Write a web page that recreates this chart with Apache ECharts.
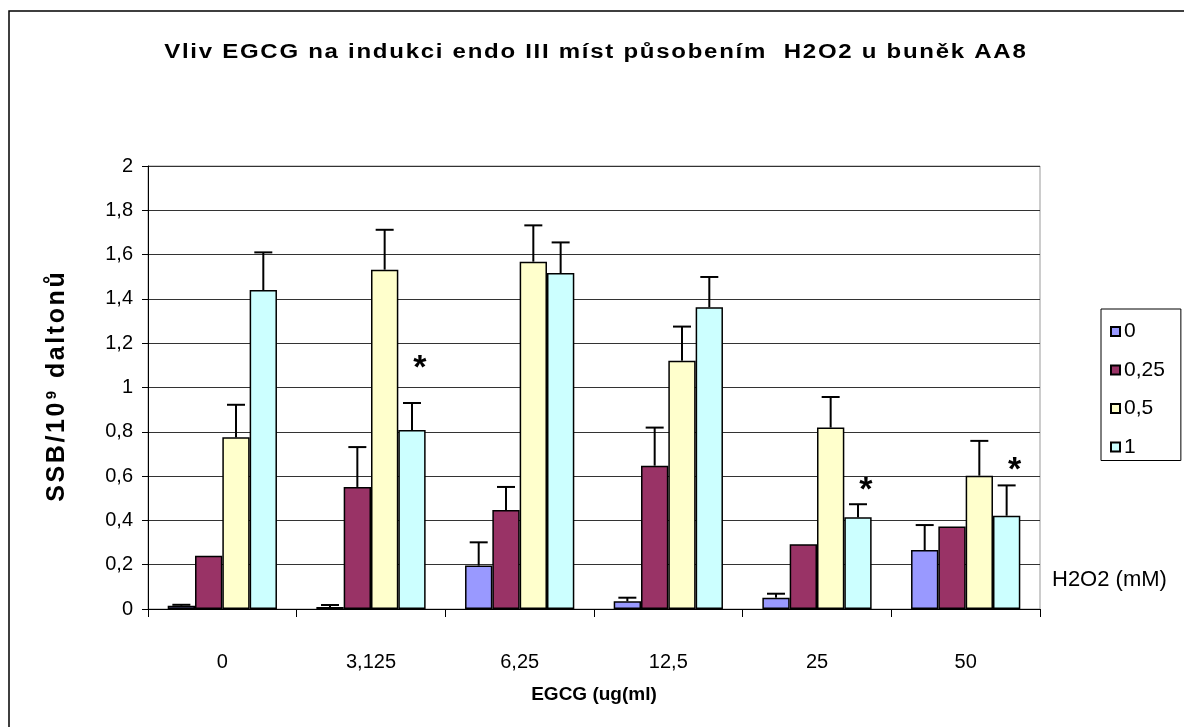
<!DOCTYPE html>
<html>
<head>
<meta charset="utf-8">
<script src="https://cdn.jsdelivr.net/npm/echarts@6/dist/echarts.min.js"></script>
<style>html,body{margin:0;padding:0;background:#fff}#c{width:1184px;height:727px}</style>
</head>
<body>
<div id="c"></div>
<script>
// ---- data ----
const categories = ['0', '3,125', '6,25', '12,5', '25', '50'];
const seriesNames = ['0', '0,25', '0,5', '1'];
const values0   = [0.015, 0.009, 0.196, 0.035, 0.051, 0.266];
const values025 = [0.24, 0.551, 0.447, 0.647, 0.292, 0.372];
const values05  = [0.775, 1.532, 1.568, 1.121, 0.819, 0.602];
const values1   = [1.44, 0.808, 1.517, 1.362, 0.414, 0.421];
const err0   = [0.004, 0.009, 0.105, 0.016, 0.018, 0.113];
const err025 = [null, 0.18, 0.104, 0.172, null, null];
const err05  = [0.147, 0.18, 0.164, 0.154, 0.138, 0.157];
const err1   = [0.17, 0.122, 0.138, 0.137, 0.059, 0.137];
// significance stars: [category index, y value]
const stars = [[1, 1.117], [4, 0.567], [5, 0.658]];
const yMin = 0, yMax = 2, yInterval = 0.2;
const titleText = 'Vliv EGCG na indukci endo III míst působením  H2O2 u buněk AA8';
const yTitleMain = 'SSB/10', yTitleSup = '9', yTitleRest = ' daltonů';
const xTitleText = 'EGCG (ug(ml)';
const legendTitle = 'H2O2 (mM)';

const colors = ['#9999FF', '#993366', '#FFFFCC', '#CCFFFF'];
const allValues = [values0, values025, values05, values1];
const allErr = [err0, err025, err05, err1];
const CAT_GAP = 0.265;
const FONT = '"Liberation Sans", Arial, sans-serif';

const errData = [];
allErr.forEach((arr, s) => arr.forEach((e, i) => {
  if (e != null) errData.push([i, allValues[s][i], e, s]);
}));

// letter-spaced rich text helper
function spaced(str, style) {
  return Array.from(str).map(c => '{' + style + '|' + c + '}').join('');
}

const chart = echarts.init(document.getElementById('c'), null, {renderer: 'canvas'});

const barSeries = seriesNames.map((n, s) => ({
  name: n, type: 'bar', data: allValues[s],
  barGap: '0%', barCategoryGap: (CAT_GAP * 100) + '%',
  itemStyle: {color: colors[s], borderColor: '#000', borderWidth: 1.5},
  emphasis: {disabled: true}, z: 2
}));

function barX(api, cat, s) {
  const c = api.coord([cat, 0]);
  const band = api.size([1, 0])[0];
  const bw = band * (1 - CAT_GAP) / 4;
  return c[0] + (s - 1.5) * bw;
}

const option = {
  backgroundColor: '#fff',
  animation: false,
  legend: {
    orient: 'vertical', left: 1101, top: 309,
    data: seriesNames,
    itemWidth: 9, itemHeight: 9, itemGap: 17.5,
    padding: [12, 16, 3, 9],
    borderColor: '#000', borderWidth: 1, backgroundColor: '#fff',
    icon: 'rect',
    textStyle: {fontFamily: FONT, fontSize: 21, lineHeight: 21, color: '#000', padding: [0, 0, 0, -1]}
  },
  grid: {left: 148, right: 144, top: 166, bottom: 118, show: true, borderColor: '#999', borderWidth: 1},
  xAxis: {
    type: 'category', data: categories,
    name: xTitleText, nameLocation: 'middle', nameGap: 76,
    nameTextStyle: {fontFamily: FONT, fontWeight: 'bold', fontSize: 19, color: '#000'},
    axisLine: {lineStyle: {color: '#000', width: 1}},
    axisTick: {show: true, length: 8, lineStyle: {color: '#000'}},
    axisLabel: {fontFamily: FONT, fontSize: 20, color: '#000', margin: 43}
  },
  yAxis: {
    type: 'value', min: yMin, max: yMax, interval: yInterval,
    axisLine: {show: true, lineStyle: {color: '#000', width: 1}},
    axisTick: {show: true, length: 6, lineStyle: {color: '#000'}},
    axisLabel: {fontFamily: FONT, fontSize: 20, color: '#000', margin: 15,
      formatter: v => String(+v.toFixed(1)).replace('.', ',')},
    splitLine: {show: true, lineStyle: {color: '#333', width: 1}}
  },
  graphic: [
    {type: 'rect', shape: {x: 9, y: 11, width: 1300, height: 900}, style: {fill: 'none', stroke: '#000', lineWidth: 1.5}, z: 100, silent: true},
    {type: 'text', x: 595, y: 52, scaleX: 1.2, silent: true, style: {
      text: spaced(titleText, 't'), align: 'center', verticalAlign: 'middle',
      rich: {t: {fontFamily: FONT, fontWeight: 'bold', fontSize: 20, fill: '#000', padding: [0, 0.72, 0, 0.72]}}
    }},
    {type: 'text', x: 57, y: 387, rotation: Math.PI / 2, silent: true, style: {
      text: spaced(yTitleMain, 'a') + '{s|' + yTitleSup + '}' + spaced(yTitleRest, 'a'),
      align: 'center', verticalAlign: 'middle',
      rich: {
        a: {fontFamily: FONT, fontWeight: 'bold', fontSize: 25, fill: '#000', padding: [0, 1.3, 0, 1.3]},
        s: {fontFamily: FONT, fontWeight: 'bold', fontSize: 15, fill: '#000', verticalAlign: 'top', padding: [0, 2, 0, 2]}
      }
    }},
    {type: 'text', x: 1052, y: 580, silent: true, style: {text: legendTitle, font: '22px ' + FONT, fill: '#000', verticalAlign: 'middle'}}
  ],
  series: barSeries.concat([
    {
      type: 'custom', name: 'err', data: errData, z: 5, silent: true,
      renderItem: (params, api) => {
        const cat = api.value(0), v = api.value(1), e = api.value(2), s = api.value(3);
        const x = barX(api, cat, s);
        const y0 = api.coord([cat, v])[1];
        const y1 = api.coord([cat, v + e])[1];
        const st = {stroke: '#000', lineWidth: 2};
        return {type: 'group', children: [
          {type: 'line', shape: {x1: x, y1: y0, x2: x, y2: y1}, style: st},
          {type: 'line', shape: {x1: x - 9, y1: y1, x2: x + 9, y2: y1}, style: st}
        ]};
      }
    },
    {
      type: 'custom', name: 'stars', data: stars, z: 6, silent: true,
      renderItem: (params, api) => {
        const cat = api.value(0), v = api.value(1);
        const x = barX(api, cat, 3) + 8;
        const y = api.coord([cat, v])[1] + 7;
        return {type: 'text', x: x, y: y, style: {text: '*', font: 'bold 34px ' + FONT, fill: '#000', align: 'center', verticalAlign: 'middle'}};
      }
    }
  ])
};
chart.setOption(option);
</script>
</body>
</html>
